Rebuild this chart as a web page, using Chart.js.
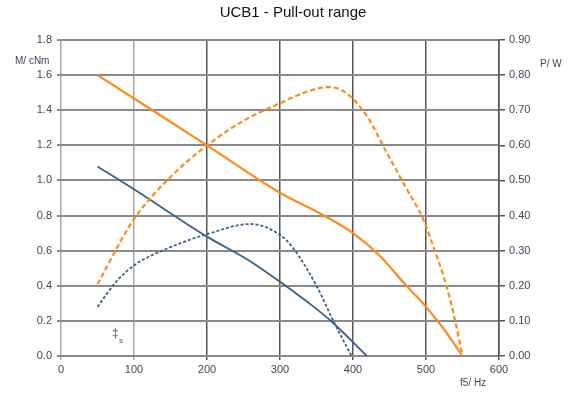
<!DOCTYPE html>
<html>
<head>
<meta charset="utf-8">
<script src="https://cdn.jsdelivr.net/npm/chart.js@4/dist/chart.umd.min.js"></script>
<style>
    html, body { margin: 0; padding: 0; background: #fff; }
    #wrap { width: 586px; height: 394px; position: relative; }
</style>
</head>
<body>
<div id="wrap"><canvas id="chart"></canvas></div>
<script>
// torque / power curves
const orangeTorqueHz = [50, 100, 200, 300, 360, 400, 437, 471, 500, 525, 550];
const orangeTorque = [1.6, 1.467, 1.2, 0.93, 0.80, 0.70, 0.57, 0.41, 0.28, 0.15, 0.0];

const orangePowerHz = [50, 100, 150, 200, 250, 300, 340, 366, 390, 420, 446, 471, 496, 512, 528, 540, 550];
const orangePower = [0.205, 0.39, 0.51, 0.60, 0.67, 0.72, 0.755, 0.766, 0.75, 0.68, 0.58, 0.485, 0.39, 0.30, 0.20, 0.10, 0.0];

const blueTorqueHz = [50, 100, 200, 259, 300, 340, 371, 419];
const blueTorque = [1.08, 0.95, 0.68, 0.54, 0.423, 0.30, 0.195, 0.0];

const bluePowerHz = [50, 75, 100, 150, 200, 260, 300, 317, 350, 373, 398];
const bluePower = [0.14, 0.21, 0.258, 0.31, 0.347, 0.376, 0.345, 0.31, 0.20, 0.10, 0.0];

const xTicks = [0, 100, 200, 300, 400, 500, 600];
const torqueTicks = [0, 0.2, 0.4, 0.6, 0.8, 1.0, 1.2, 1.4, 1.6, 1.8];
const powerTicks = [0, 0.1, 0.2, 0.3, 0.4, 0.5, 0.6, 0.7, 0.8, 0.9];

const ORANGE = '#ff8a1c';
const BLUE = '#3c5f86';
const LABEL = '#3e4a5a';
const FONT = "'Liberation Sans', Arial, sans-serif";

function points(xs, ys) {
    return xs.map((x, i) => ({ x, y: ys[i] }));
}

const textPlugin = {
    id: 'texts',
    afterDraw(chart) {
        const ctx = chart.ctx;
        ctx.save();
        ctx.fillStyle = '#111';
        ctx.font = `15px ${FONT}`;
        ctx.textAlign = 'center';
        ctx.textBaseline = 'middle';
        ctx.fillText('UCB1 - Pull-out range', 293, 13);

        ctx.fillStyle = LABEL;
        ctx.font = `10px ${FONT}`;
        ctx.textAlign = 'left';
        ctx.fillText('M/ cNm', 15, 61);
        ctx.fillText('P/ W', 540, 64);
        ctx.fillText('f5/ Hz', 460, 383);

        ctx.fillStyle = '#555';
        ctx.font = `12px ${FONT}`;
        ctx.fillText('‡', 112, 334);
        ctx.font = `8px ${FONT}`;
        ctx.fillText('s', 119, 341);
        ctx.restore();
    }
};

new Chart(document.getElementById('chart').getContext('2d'), {
    type: 'line',
    data: {
        datasets: [
            {
                data: points(orangeTorqueHz, orangeTorque),
                borderColor: ORANGE, borderWidth: 2.2,
                pointRadius: 0, cubicInterpolationMode: 'monotone', yAxisID: 'y'
            },
            {
                data: points(orangePowerHz, orangePower),
                borderColor: ORANGE, borderWidth: 2.2, borderDash: [5, 3],
                pointRadius: 0, cubicInterpolationMode: 'monotone', yAxisID: 'y2'
            },
            {
                data: points(blueTorqueHz, blueTorque),
                borderColor: BLUE, borderWidth: 1.8,
                pointRadius: 0, cubicInterpolationMode: 'monotone', yAxisID: 'y'
            },
            {
                data: points(bluePowerHz, bluePower),
                borderColor: BLUE, borderWidth: 1.8, borderDash: [3, 2],
                pointRadius: 0, cubicInterpolationMode: 'monotone', yAxisID: 'y2'
            }
        ]
    },
    options: {
        responsive: true,
        maintainAspectRatio: false,
        animation: false,
        layout: { padding: { top: 40, left: 0, right: 0, bottom: 0 } },
        plugins: { legend: { display: false }, tooltip: { enabled: false } },
        scales: {
            x: {
                type: 'linear', min: 0, max: 600,
                afterBuildTicks: s => { s.ticks = xTicks.map(v => ({ value: v })); },
                afterFit: s => { s.height = 38; },
                ticks: { color: LABEL, font: { family: FONT, size: 11 }, padding: 3 },
                grid: {
                    color: c => (c.tick && (c.tick.value === 100 || c.tick.value === 0)) ? '#aaa' : '#555',
                    lineWidth: 1.5, tickLength: 4
                },
                border: { display: false }
            },
            y: {
                position: 'left', min: 0, max: 1.8,
                afterBuildTicks: s => { s.ticks = torqueTicks.map(v => ({ value: v })); },
                afterFit: s => { s.width = 61; },
                ticks: {
                    color: LABEL, font: { family: FONT, size: 11 }, padding: 5,
                    callback: v => Number(v).toFixed(1)
                },
                grid: { color: '#8a8a8a', lineWidth: 2, tickLength: 4 },
                border: { display: false }
            },
            y2: {
                position: 'right', min: 0, max: 0.9,
                afterBuildTicks: s => { s.ticks = powerTicks.map(v => ({ value: v })); },
                afterFit: s => { s.width = 87; },
                ticks: {
                    color: LABEL, font: { family: FONT, size: 11 }, padding: 4,
                    callback: v => Number(v).toFixed(2)
                },
                grid: { drawOnChartArea: false, color: '#555', lineWidth: 1.5, tickLength: 6 },
                border: { display: true, color: '#555', width: 1.5 }
            }
        }
    },
    plugins: [textPlugin]
});
</script>
</body>
</html>
